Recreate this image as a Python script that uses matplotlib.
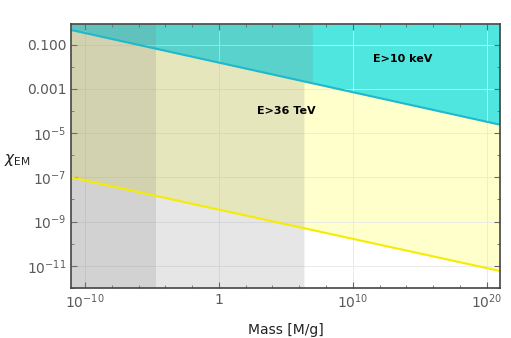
import numpy as np
import matplotlib
matplotlib.use("Agg")
import matplotlib.pyplot as plt
from matplotlib.ticker import FixedLocator, NullFormatter

# ---- data ----
mass_ends = [10**-11.05, 10**21.0]          # M/g, plot range
chi_10keV = [10**-0.34, 10**-4.62]          # E>10 keV bound (cyan line)
chi_36TeV = [10**-7.0, 10**-11.23]          # E>36 TeV bound (yellow line)
grey_dark_max = 10**-4.7                    # darker grey band upper mass
grey_light_max_low = 10**6.35               # lighter grey band (below cyan line)
grey_light_max_high = 10**6.97              # lighter grey band (above cyan line)
y_limits = [10**-12.0, 10**-0.07]

x_major = [1e-10, 1, 1e10, 1e20]
x_major_labels = [r"$10^{-10}$", "1", r"$10^{10}$", r"$10^{20}$"]
x_minor = [10.0**e for e in range(-12, 23, 2)]
y_major = [1e-11, 1e-9, 1e-7, 1e-5, 1e-3, 1e-1]
y_major_labels = [r"$10^{-11}$", r"$10^{-9}$", r"$10^{-7}$", r"$10^{-5}$", "0.001", "0.100"]
y_minor = [10.0**e for e in range(-12, 1, 2)]

labels = ["E>10 keV", "E>36 TeV"]
label_pos = [(10**13.7, 10**-1.65), (10**5.0, 10**-4.0)]


def powerlaw(x, xs, ys):
    lx = np.log10(x)
    slope = (np.log10(ys[1]) - np.log10(ys[0])) / (np.log10(xs[1]) - np.log10(xs[0]))
    return 10 ** (np.log10(ys[0]) + slope * (lx - np.log10(xs[0])))


fig = plt.figure(figsize=(5.11, 3.38), dpi=100)
ax = fig.add_axes([71/511, 50/338, 429/511, 264/338])
ax.set_xscale("log")
ax.set_yscale("log")
ax.set_xlim(mass_ends)
ax.set_ylim(y_limits)

xs = np.logspace(np.log10(mass_ends[0]), np.log10(mass_ends[1]), 200)
cy = powerlaw(xs, mass_ends, chi_10keV)
yy = powerlaw(xs, mass_ends, chi_36TeV)

cyan_fill = "#4ee6de"
yellow_fill = "#ffffcc"
ax.fill_between(xs, cy, y_limits[1], color=cyan_fill, lw=0, zorder=1)
ax.fill_between(xs, yy, cy, color=yellow_fill, lw=0, zorder=1)

# grid
for v in x_major:
    ax.axvline(v, color="#e8e8e8", lw=0.6, zorder=1.5)
for v in y_major:
    ax.axhline(v, color="#e8e8e8", lw=0.6, zorder=1.5)

shade = dict(color="#828282", alpha=0.2, lw=0, zorder=2)
# darker band: full height
ax.axvspan(mass_ends[0], grey_dark_max, **shade)
# lighter band: below cyan line
m1 = xs <= grey_light_max_low
xs1 = np.append(xs[m1], grey_light_max_low)
ax.fill_between(xs1, y_limits[0], powerlaw(xs1, mass_ends, chi_10keV), **shade)
# lighter band: above cyan line
m2 = xs <= grey_light_max_high
xs2 = np.append(xs[m2], grey_light_max_high)
ax.fill_between(xs2, powerlaw(xs2, mass_ends, chi_10keV), y_limits[1], **shade)

ax.plot(xs, cy, color="#1fb8cc", lw=1.5, zorder=3)
ax.plot(xs, yy, color="#f5ec00", lw=1.5, zorder=3)

for t, (px, py) in zip(labels, label_pos):
    ax.text(px, py, t, fontsize=8, fontweight="bold", color="black",
            ha="center", va="center", zorder=4)

ax.xaxis.set_major_locator(FixedLocator(x_major))
ax.set_xticklabels(x_major_labels)
ax.xaxis.set_minor_locator(FixedLocator(x_minor))
ax.xaxis.set_minor_formatter(NullFormatter())
ax.yaxis.set_major_locator(FixedLocator(y_major))
ax.set_yticklabels(y_major_labels)
ax.yaxis.set_minor_locator(FixedLocator(y_minor))
ax.yaxis.set_minor_formatter(NullFormatter())

ax.tick_params(which="both", direction="in", top=True, right=True,
               colors="#666666", labelcolor="#5a5a5a", labelsize=10)
ax.tick_params(which="major", length=4, width=0.8)
ax.tick_params(which="minor", length=2.5, width=0.6)
for s in ax.spines.values():
    s.set_color("#444444")
    s.set_linewidth(1.2)
    s.set_zorder(5)

ax.set_xlabel("Mass [M/g]", fontsize=10, color="#222222", labelpad=8)
fig.text(4/511, 1 - 160/338, r"$\chi_{\mathrm{EM}}$", fontsize=11, color="#222222",
         ha="left", va="center")

fig.savefig("out.png", dpi=100)
